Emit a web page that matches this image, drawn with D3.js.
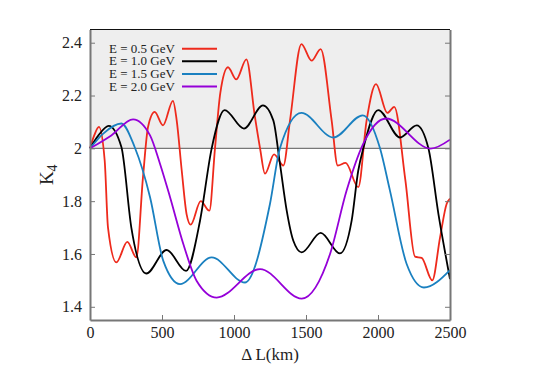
<!DOCTYPE html>
<html>
<head>
<meta charset="utf-8">
<script src="https://cdn.jsdelivr.net/npm/d3@7"></script>
<style>
body{margin:0;background:#fff;}
svg{display:block;font-family:"Liberation Serif","Times New Roman",serif;}
.axis path,.axis line{stroke:#777;}
.axis text{font-size:16px;fill:#222;font-family:"Liberation Serif",serif;}
</style>
</head>
<body>
<div id="chart"></div>
<script>
// series: distance (km) and K4
var km05=[0,30,62,102,125,183,259,322,368,403,449,507,576,602,637,671,699,769,829,868,905,958,1016,1086,1145,1181,1215,1278,1343,1389,1468,1539,1602,1678,1720,1775,1863,1921,1986,2065,2113,2190,2257,2303,2377,2431,2477,2500];
var k05=[2.0,2.05,2.081,1.954,1.70,1.568,1.646,1.587,1.891,2.081,2.138,2.087,2.18,2.106,1.916,1.75,1.711,1.80,1.764,2.0,2.21,2.307,2.261,2.337,2.12,2.0,1.904,1.977,1.935,2.106,2.395,2.332,2.376,2.106,1.935,1.945,1.853,2.106,2.243,2.134,2.157,1.88,1.59,1.585,1.50,1.663,1.79,1.81];

var km10=[0,60,130,218,287,391,532,667,764,845,935,1069,1201,1273,1319,1366,1412,1470,1602,1736,1817,1863,1898,2002,2153,2269,2350,2420,2500];
var k10=[2.0,2.05,2.085,2.005,1.70,1.526,1.615,1.536,1.726,2.0,2.145,2.075,2.163,2.106,1.942,1.764,1.65,1.606,1.68,1.602,1.726,1.916,2.0,2.145,2.041,2.087,2.0,1.75,1.505];

var km15=[0,92,218,310,417,509,625,845,1076,1250,1319,1468,1690,1894,2014,2083,2199,2319,2500];
var k15=[2.0,2.056,2.094,2.005,1.815,1.574,1.486,1.587,1.492,1.79,2.0,2.134,2.041,2.125,2.0,1.84,1.562,1.473,1.539];

var km20=[0,148,299,417,486,556,648,741,880,1181,1470,1667,1782,1898,2056,2366,2500];
var k20=[2.0,2.049,2.11,2.049,1.942,1.815,1.638,1.498,1.435,1.543,1.431,1.60,1.84,2.018,2.113,1.999,2.033];

var labels=["E = 0.5 GeV","E = 1.0 GeV","E = 1.5 GeV","E = 2.0 GeV"];
var colors=["#ee2a1c","#000000","#1a80c0","#9500d8"];
var xticks=[0,500,1000,1500,2000,2500];
var yticks=[1.4,1.6,1.8,2.0,2.2,2.4];

var width=540,height=378;
var pLeft=90,pRight=450,pTop=29.5,pBottom=320;

var series=[[km05,k05],[km10,k10],[km15,k15],[km20,k20]].map(function(s){
	return s[0].map(function(d,i){return [d,s[1][i]];});
});

var x=d3.scaleLinear().domain([0,2500]).range([pLeft,pRight]);
var y=d3.scaleLinear().domain([1.35,2.45]).range([pBottom,pTop]);

var svg=d3.select("#chart").append("svg")
	.attr("width",width)
	.attr("height",height);

// shaded band above K4 = 2
svg.append("rect")
	.attr("x",pLeft).attr("y",pTop)
	.attr("width",pRight-pLeft).attr("height",y(2)-pTop)
	.attr("fill","#eeeeee");
svg.append("line")
	.attr("x1",pLeft).attr("x2",pRight)
	.attr("y1",pTop).attr("y2",pTop)
	.attr("stroke","#111").attr("stroke-width",1);
svg.append("line")
	.attr("x1",pLeft).attr("x2",pRight)
	.attr("y1",y(2)).attr("y2",y(2))
	.attr("stroke","#777").attr("stroke-width",1.2);

var line=d3.line()
	.x(function(d){return x(d[0]);})
	.y(function(d){return y(d[1]);})
	.curve(d3.curveMonotoneX);

var plot=svg.append("g");
plot.selectAll("path")
	.data(series)
	.enter()
	.append("path")
	.attr("d",line)
	.attr("fill","none")
	.attr("stroke",function(d,i){return colors[i];})
	.attr("stroke-width",1.8);

// axes with inward ticks
svg.append("g").attr("class","axis")
	.attr("transform","translate(0,"+pBottom+")")
	.call(d3.axisBottom(x).tickValues(xticks).tickSizeInner(-5).tickSizeOuter(0).tickPadding(7)
		.tickFormat(d3.format("d")))
	.call(function(g){g.select(".domain").attr("stroke-width",2);});
svg.append("g").attr("class","axis")
	.attr("transform","translate("+pLeft+",0)")
	.call(d3.axisLeft(y).tickValues(yticks).tickSizeInner(-5).tickSizeOuter(0).tickPadding(8)
		.tickFormat(function(d){return String(+d.toFixed(1));}))
	.call(function(g){g.select(".domain").attr("stroke-width",2);});
svg.append("g").attr("class","axis")
	.attr("transform","translate("+pRight+",0)")
	.call(d3.axisRight(y).tickValues(yticks).tickSizeInner(-5).tickSizeOuter(0).tickFormat(""))
	.call(function(g){g.select(".domain").attr("stroke-width",2);});

svg.append("text")
	.attr("x",(pLeft+pRight)/2).attr("y",360)
	.attr("text-anchor","middle")
	.attr("font-size",17).attr("fill","#222")
	.text("\u0394 L(km)");

var ylab=svg.append("text")
	.attr("transform","translate(53,"+((pTop+pBottom)/2)+") rotate(-90)")
	.attr("text-anchor","middle")
	.attr("font-size",19).attr("fill","#222");
ylab.append("tspan").text("K");
ylab.append("tspan").attr("dy",4).attr("font-size",14).text("4");

// legend
var leg=svg.append("g").selectAll("g")
	.data(labels)
	.enter()
	.append("g")
	.attr("transform",function(d,i){return "translate(109,"+(52.7+i*12.6)+")";});
leg.append("text")
	.attr("font-size",13).attr("fill","#222")
	.text(function(d){return d;});
leg.append("line")
	.attr("x1",73).attr("x2",108)
	.attr("y1",-4).attr("y2",-4)
	.attr("stroke",function(d,i){return colors[i];})
	.attr("stroke-width",2);
</script>
</body>
</html>
